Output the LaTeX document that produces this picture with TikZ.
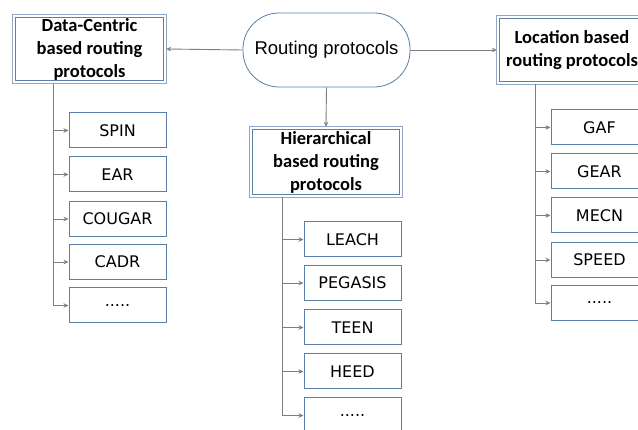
\documentclass[tikz,border=0pt]{standalone}
\usepackage{fontspec}
\setmainfont{Liberation Sans}
\newfontfamily\hdrfont{Carlito}
\newfontfamily\kidfont{DejaVu Sans}
\usetikzlibrary{arrows.meta,calc}
\definecolor{boxblue}{HTML}{5A7FA8}
\definecolor{outerblue}{HTML}{8EA8C8}
\definecolor{lingray}{HTML}{7F7F7F}
\begin{document}
\begin{tikzpicture}[x=1pt,y=-1pt,
  hdrtext/.style={fill=white,align=center,font=\hdrfont\bfseries\fontsize{18.5}{23}\selectfont,inner sep=0pt},
  outerframe/.style={draw=outerblue,line width=1pt},
  innerframe/.style={draw=boxblue,line width=0.8pt},
  root/.style={draw=boxblue,line width=0.8pt,rounded corners=36pt,fill=white,
    minimum width=167pt,minimum height=74pt,font=\fontsize{18.5}{21}\selectfont,inner sep=0pt},
  kid/.style={draw=boxblue,line width=1pt,fill=white,minimum width=97pt,minimum height=35pt,
    inner sep=0pt,font=\kidfont\fontsize{16}{19}\selectfont},
  arr/.style={draw=lingray,line width=0.9pt,-{Stealth[length=5pt,width=4.5pt]}}]
\useasboundingbox (0,0) rectangle (638,430);
\fill[white] (0,0) rectangle (638,430);
\clip (0,0) rectangle (638,430);

\node[root] (rp) at (326.5,50) {Routing protocols};
\node[hdrtext,minimum width=153pt,minimum height=68pt] (dc) at (89.5,49) {Data-Centric\\based routing\\protocols};
\node[hdrtext,minimum width=150pt,minimum height=68pt] (lb) at (572,50) {Location based\\routing protocols};
\node[hdrtext,minimum width=152pt,minimum height=70pt] (hb) at (326,162) {Hierarchical\\based routing\\protocols};
\foreach \h in {dc,lb,hb} {
  \draw[outerframe] (\h.north west) rectangle (\h.south east);
  \draw[innerframe] ($(\h.north west)+(2.5,2.5)$) rectangle ($(\h.south east)+(-2.5,-2.5)$);
}

\draw[arr] (rp.west) -- (dc.east);
\draw[arr] (rp.east) -- (lb.west);
\draw[arr] (rp.south) -- (hb.north);

% left children
\node[kid] (l1) at (117.5,130.5) {SPIN};
\node[kid] (l2) at (117.5,174.5) {EAR};
\node[kid] (l3) at (117.5,219) {COUGAR};
\node[kid] (l4) at (117.5,262) {CADR};
\node[kid] (l5) at (117.5,305.5) {.....};
\coordinate (lt) at (53,0);
\foreach \k in {l1,l2,l3,l4,l5} \draw[arr] (lt |- dc.south) |- (\k.west);

% middle children
\node[kid] (m1) at (352.5,239.5) {LEACH};
\node[kid] (m2) at (352.5,283) {PEGASIS};
\node[kid] (m3) at (352.5,327.5) {TEEN};
\node[kid] (m4) at (352.5,371.5) {HEED};
\node[kid] (m5) at (352.5,415.5) {.....};
\coordinate (mt) at (282,0);
\foreach \k in {m1,m2,m3,m4,m5} \draw[arr] (mt |- hb.south) |- (\k.west);

% right children
\node[kid] (r1) at (599.5,127.5) {GAF};
\node[kid] (r2) at (599.5,171.5) {GEAR};
\node[kid] (r3) at (599.5,215.5) {MECN};
\node[kid] (r4) at (599.5,260) {SPEED};
\node[kid] (r5) at (599.5,303) {.....};
\coordinate (rt) at (535,0);
\foreach \k in {r1,r2,r3,r4,r5} \draw[arr] (rt |- lb.south) |- (\k.west);
\end{tikzpicture}
\end{document}
